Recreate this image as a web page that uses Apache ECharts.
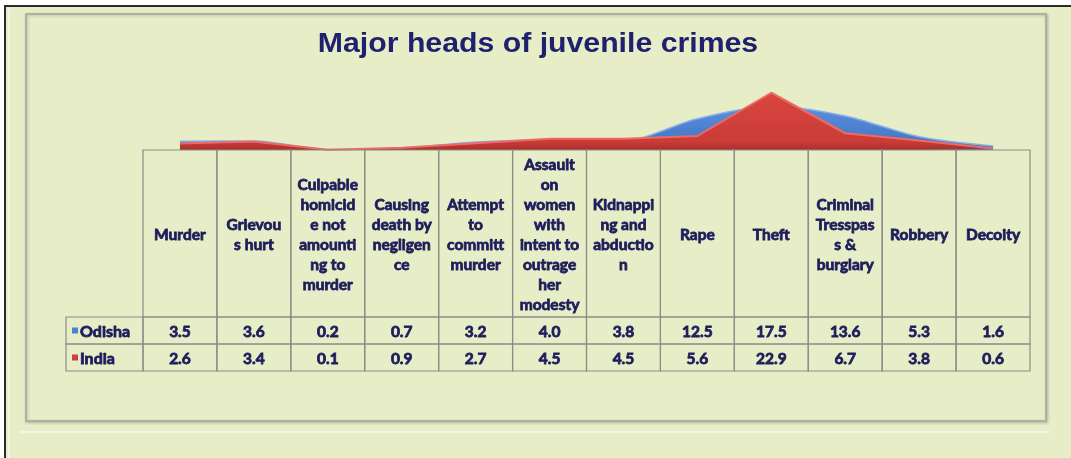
<!DOCTYPE html>
<html>
<head>
<meta charset="utf-8">
<script src="https://cdn.jsdelivr.net/npm/echarts@6/dist/echarts.min.js"></script>
<style>
  html, body { margin: 0; padding: 0; background: #ffffff; }
  #chart { width: 1071px; height: 458px; }
</style>
</head>
<body>
<div id="chart"></div>
<script>
// Crime heads (full names) and the wrapped form printed in the table header
const categories = [
  'Murder', 'Grievous hurt', 'Culpable homicide not amounting to murder',
  'Causing death by negligence', 'Attempt to committ murder',
  'Assault on women with intent to outrage her modesty', 'Kidnapping and abduction',
  'Rape', 'Theft', 'Criminal Tresspass & burglary', 'Robbery', 'Decoity'
];
const headerLabels = [
  'Murder', 'Grievou\ns hurt', 'Culpable\nhomicid\ne not\namounti\nng to\nmurder',
  'Causing\ndeath by\nnegligen\nce', 'Attempt\nto\ncommitt\nmurder',
  'Assault\non\nwomen\nwith\nintent to\noutrage\nher\nmodesty', 'Kidnappi\nng and\nabductio\nn',
  'Rape', 'Theft', 'Criminal\nTresspas\ns &\nburglary', 'Robbery', 'Decoity'
];
const seriesNames = ['Odisha', 'India'];
const odisha = [3.5, 3.6, 0.2, 0.7, 3.2, 4.0, 3.8, 12.5, 17.5, 13.6, 5.3, 1.6];
const india  = [2.6, 3.4, 0.1, 0.9, 2.7, 4.5, 4.5, 5.6, 22.9, 6.7, 3.8, 0.6];
const chartTitle = 'Major heads of juvenile crimes';

// Look and layout
const INK = '#1e1d5c';
const RULE = '#8c8d86';
const BG = '#e6edc7';
const TABLE_FONT = 'Lato, "Open Sans", sans-serif';
const TABLE_LEFT = 66, PLOT_LEFT = 143, PLOT_RIGHT = 1030;
const TABLE_TOP = 150, HEAD_H = 167, ROW_H = 27;
const seriesColors = { Odisha: '#4d83d3', India: '#d0413c' };
const textStyle = { fontFamily: TABLE_FONT, fontWeight: 'bold', fontSize: 15.5,
                    fill: INK, stroke: INK, lineWidth: 0.8 };

const chart = echarts.init(document.getElementById('chart'), null, { renderer: 'canvas' });

// One table column per crime head: header cell plus one value cell per series
function renderColumn(params, api) {
  const i = api.value(0);
  const cx = api.coord([i, 0])[0];
  const w = api.size([1, 0])[0];
  const top = params.coordSys.y;
  const x0 = cx - w / 2;
  const cell = { fill: 'none', stroke: RULE, lineWidth: 1.2 };
  const children = [
    { type: 'rect', shape: { x: x0, y: top, width: w, height: HEAD_H }, style: cell },
    { type: 'text', x: cx, y: top + HEAD_H / 2 + 1,
      style: Object.assign({ text: headerLabels[i], align: 'center', verticalAlign: 'middle',
                             lineHeight: 20 }, textStyle) }
  ];
  [api.value(1), api.value(2)].forEach(function (v, r) {
    const y0 = top + HEAD_H + r * ROW_H;
    children.push({ type: 'rect', shape: { x: x0, y: y0, width: w, height: ROW_H }, style: cell });
    children.push({ type: 'text', x: cx, y: y0 + ROW_H / 2 + 1,
      style: Object.assign({ text: v.toFixed(1), align: 'center', verticalAlign: 'middle' }, textStyle) });
  });
  return { type: 'group', children: children };
}

// Row-label cells with the series swatches
const rowLabelGraphics = [];
seriesNames.forEach(function (name, r) {
  const y0 = TABLE_TOP + HEAD_H + r * ROW_H;
  rowLabelGraphics.push({ type: 'rect', z: 5,
    shape: { x: TABLE_LEFT, y: y0, width: PLOT_LEFT - TABLE_LEFT, height: ROW_H },
    style: { fill: 'none', stroke: RULE, lineWidth: 1.2 } });
  rowLabelGraphics.push({ type: 'rect', z: 5,
    shape: { x: TABLE_LEFT + 6, y: y0 + ROW_H / 2 - 3, width: 6, height: 6 },
    style: { fill: seriesColors[name] } });
  rowLabelGraphics.push({ type: 'text', z: 5, x: TABLE_LEFT + 14, y: y0 + ROW_H / 2 + 1,
    style: Object.assign({ text: name, align: 'left', verticalAlign: 'middle' }, textStyle, { fontSize: 16 }) });
});

const option = {
  backgroundColor: '#ffffff',
  animation: false,
  graphic: [
    // page panel with dark top/left edge
    { type: 'rect', z: -10, shape: { x: 5, y: 6, width: 1100, height: 470 },
      style: { fill: BG, stroke: '#2a2a2a', lineWidth: 2 } },
    { type: 'line', z: -9, shape: { x1: 9, y1: 9, x2: 9, y2: 458 },
      style: { stroke: '#f2f6dc', lineWidth: 2 } },
    { type: 'line', z: -9, shape: { x1: 20, y1: 432, x2: 1050, y2: 432 },
      style: { stroke: '#f2f6dc', lineWidth: 2 } },
    // chart frame
    { type: 'rect', z: -8, shape: { x: 26, y: 14, width: 1020, height: 407 },
      style: { fill: BG, stroke: '#adb0a2', lineWidth: 2,
               shadowColor: 'rgba(0,0,0,0.18)', shadowBlur: 3, shadowOffsetX: 1, shadowOffsetY: 1 } },
    { type: 'text', z: 5, x: 538, y: 45, scaleX: 1.12,
      style: { text: chartTitle, align: 'center', verticalAlign: 'middle',
               fontFamily: '"Liberation Sans", Arial, sans-serif', fontWeight: 'bold',
               fontSize: 27, fill: '#1f216f' } }
  ].concat(rowLabelGraphics),
  grid: [
    { left: PLOT_LEFT, right: 1071 - PLOT_RIGHT, top: 75, height: TABLE_TOP - 75 },
    { left: PLOT_LEFT, right: 1071 - PLOT_RIGHT, top: TABLE_TOP, height: HEAD_H + 2 * ROW_H }
  ],
  xAxis: [
    { type: 'category', gridIndex: 0, data: categories, boundaryGap: true,
      axisLine: { show: false }, axisTick: { show: false }, axisLabel: { show: false } },
    { type: 'category', gridIndex: 1, data: categories, boundaryGap: true, show: false }
  ],
  yAxis: [
    { type: 'value', gridIndex: 0, min: 0, max: 30, show: false },
    { type: 'value', gridIndex: 1, min: 0, max: 1, show: false }
  ],
  series: [
    { name: seriesNames[0], type: 'line', xAxisIndex: 0, yAxisIndex: 0, data: odisha,
      smooth: 0.3, symbol: 'none', z: 2,
      lineStyle: { color: '#86aeea', width: 1.5 },
      areaStyle: { opacity: 1, color: new echarts.graphic.LinearGradient(0, 0, 0, 1, [
        { offset: 0, color: '#5b90dc' }, { offset: 1, color: '#3f72c2' }]) } },
    { name: seriesNames[1], type: 'line', xAxisIndex: 0, yAxisIndex: 0, data: india,
      smooth: false, symbol: 'none', z: 3,
      lineStyle: { color: '#ee6a64', width: 2 },
      areaStyle: { opacity: 1, color: new echarts.graphic.LinearGradient(0, 0, 0, 1, [
        { offset: 0, color: '#d9463f' }, { offset: 0.85, color: '#cb3c37' }, { offset: 1, color: '#a8302c' }]) } },
    { name: 'table', type: 'custom', xAxisIndex: 1, yAxisIndex: 1, z: 4,
      data: categories.map(function (c, i) { return [i, odisha[i], india[i]]; }),
      renderItem: renderColumn, silent: true }
  ]
};

chart.setOption(option);
</script>
</body>
</html>
